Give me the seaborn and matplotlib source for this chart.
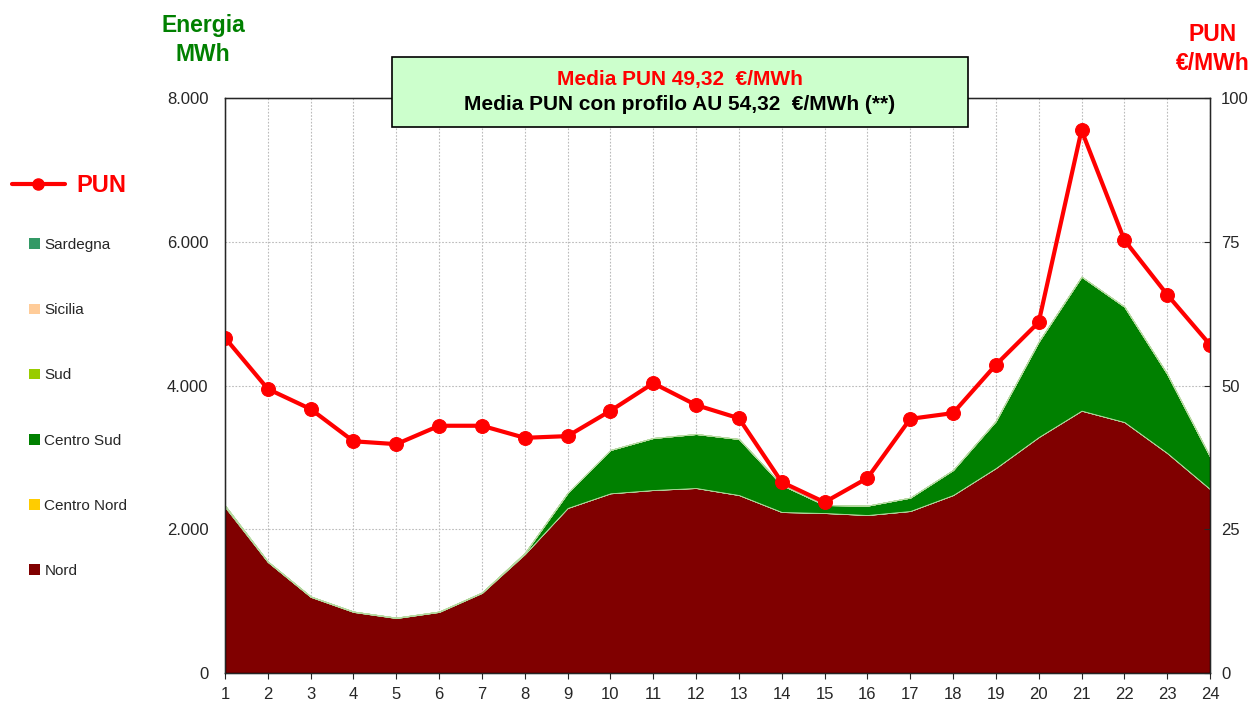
import matplotlib
matplotlib.use("Agg")
import matplotlib.pyplot as plt
import matplotlib.ticker as mticker
from matplotlib.lines import Line2D
from matplotlib.patches import Patch
import seaborn as sns
import pandas as pd

# data
hours = list(range(1, 25))
nord = [2310, 1545, 1060, 850, 765, 850, 1115, 1655, 2296, 2500, 2546, 2574,
        2476, 2240, 2226, 2198, 2254, 2476, 2852, 3283, 3650, 3492, 3061, 2560]
centro_nord = [0] * 24
centro_sud = [20, 5, 5, 5, 5, 5, 5, 15, 210, 603, 724, 751,
              780, 376, 111, 130, 186, 348, 654, 1327, 1864, 1605, 1099, 450]
sud = [0] * 24
sicilia = [0] * 24
sardegna = [0] * 24
pun = [58.3, 49.4, 45.9, 40.3, 39.8, 43.0, 43.0, 40.9, 41.2, 45.6, 50.4, 46.6,
       44.3, 33.2, 29.7, 33.9, 44.2, 45.2, 53.6, 61.0, 94.4, 75.3, 65.8, 57.1]

zone_names = ["Nord", "Centro Nord", "Centro Sud", "Sud", "Sicilia", "Sardegna"]
zone_colors = ["#800000", "#FFCC00", "#008000", "#99CC00", "#FFCC99", "#339966"]

df = pd.DataFrame({"ora": hours, "PUN": pun})

sns.set_style("white")
plt.rcParams["font.family"] = ["Liberation Sans", "DejaVu Sans"]

fig = plt.figure(figsize=(12.54, 7.05), dpi=100)
ax = fig.add_axes([225 / 1254, 1 - 673 / 705, 985 / 1254, 575 / 705])

ax.stackplot(hours, nord, centro_nord, centro_sud, sud, sicilia, sardegna,
             colors=zone_colors, labels=zone_names, linewidth=0.6,
             edgecolor="#B5D9A0")
ax.set_xlim(1, 24)
ax.set_ylim(0, 8000)
ax.set_xticks(hours)
ax.set_yticks([0, 2000, 4000, 6000, 8000])
ax.yaxis.set_major_formatter(mticker.FuncFormatter(
    lambda v, p: "0" if v == 0 else f"{v:,.0f}".replace(",", ".")))
ax.grid(True, color="#BBBBBB", linestyle=(0, (1.5, 1.5)), linewidth=0.8)
ax.set_axisbelow(True)
ax.tick_params(axis="y", labelsize=12, length=0, pad=12, left=True)
ax.tick_params(axis="x", labelsize=12, length=4, pad=6, direction="out", bottom=True)
for s in ax.spines.values():
    s.set_color("black")
    s.set_linewidth(1)
ax.set_xlabel("")
ax.set_ylabel("")

ax2 = ax.twinx()
sns.lineplot(data=df, x="ora", y="PUN", ax=ax2, color="#FF0000", linewidth=3,
             marker="o", markersize=10, markeredgecolor="#FF0000")
ax2.set_ylim(0, 100)
ax2.set_xlim(1, 24)
ax2.set_yticks([0, 25, 50, 75, 100])
ax2.tick_params(axis="y", labelsize=12, length=4, pad=8, direction="in", right=True)
ax2.set_xlabel("")
ax2.set_ylabel("")

# axis titles
fig.text(203 / 1254, 1 - 40 / 705, "Energia\nMWh", color="#008000", fontsize=16.5,
         fontweight="bold", ha="center", va="center", linespacing=1.35)
fig.text(1213 / 1254, 1 - 49 / 705, "PUN\n€/MWh", color="#FF0000", fontsize=16.5,
         fontweight="bold", ha="center", va="center", linespacing=1.35)

# info box
fig.patches.append(plt.Rectangle((392 / 1254, 1 - 127 / 705), 576 / 1254, 70 / 705,
                                 transform=fig.transFigure, facecolor="#CCFFCC",
                                 edgecolor="black", linewidth=1.2, zorder=5))
fig.text(680 / 1254, 1 - 79 / 705, "Media PUN 49,32  €/MWh", color="#FF0000",
         fontsize=15, fontweight="bold", ha="center", va="center", zorder=6)
fig.text(680 / 1254, 1 - 105 / 705, "Media PUN con profilo AU 54,32  €/MWh (**)",
         color="black", fontsize=15, fontweight="bold", ha="center", va="center", zorder=6)

# legends
pun_handle = Line2D([0], [0], color="#FF0000", linewidth=3, marker="o", markersize=8)
leg1 = fig.legend([pun_handle], ["PUN"], loc="center left",
                  bbox_to_anchor=(0.0, 1 - 186 / 705), frameon=False,
                  prop={"size": 17, "weight": "bold"}, handlelength=2.25,
                  handletextpad=0.5, borderaxespad=0.1)
for t in leg1.get_texts():
    t.set_color("#FF0000")

handles = [Patch(facecolor=c, edgecolor="none") for c in zone_colors][::-1]
leg2 = fig.legend(handles, zone_names[::-1], loc="upper left",
                  bbox_to_anchor=(23 / 1254, 1 - 232 / 705), frameon=False,
                  fontsize=11, handlelength=0.7, handleheight=0.7,
                  handletextpad=0.3, labelspacing=3.35, borderaxespad=0)

fig.savefig("out.png", dpi=100)
